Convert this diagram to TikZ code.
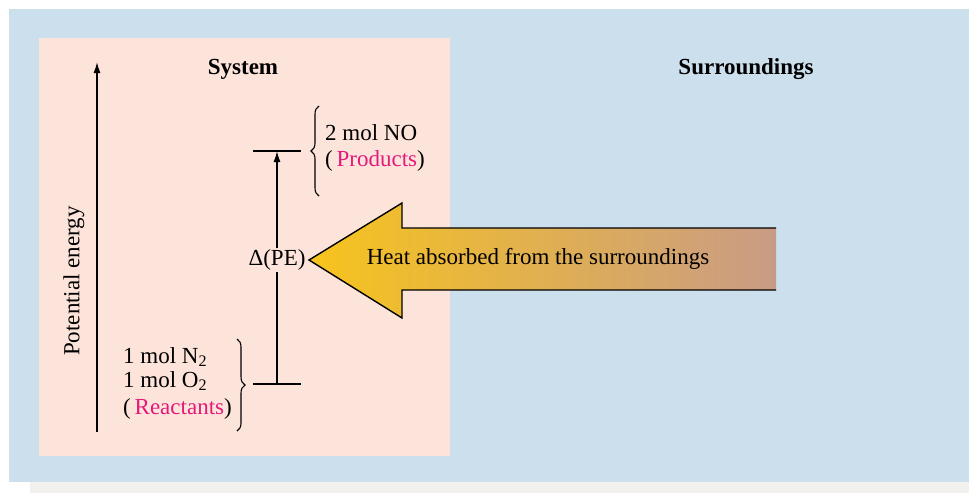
\documentclass[tikz,border=0pt]{standalone}
\usepackage{fontspec}
\setmainfont{Liberation Serif}
\usetikzlibrary{decorations.pathreplacing,calc,arrows.meta}
\definecolor{sky}{HTML}{CCDFED}
\definecolor{blush}{HTML}{FDE4DA}
\definecolor{strip}{HTML}{F2F1ED}
\definecolor{magen}{HTML}{E5197A}
\definecolor{heatA}{HTML}{F7C41C}
\definecolor{heatM}{HTML}{E6B55E}
\definecolor{heatB}{HTML}{C99B86}
\begin{document}
\begin{tikzpicture}[x=1pt,y=-1pt,
  txt/.style={font=\fontsize{23}{27}\selectfont, inner sep=0pt},
  head/.style={font=\fontsize{23}{27}\selectfont\bfseries, inner sep=0pt},
  level/.style={line width=1.4pt},
  axisline/.style={line width=1.4pt, -{Latex[length=11pt,width=7pt]}},
  pebrace/.style={decorate, line width=1.1pt, decoration={brace, amplitude=8pt}}]
\useasboundingbox (0,0) rectangle (969,493);
% panels
\fill[strip] (30,482) rectangle (969,493);
\fill[sky] (9,9) rectangle (969,482);
\fill[blush] (39,38) rectangle (450,456);
% titles
\node[head] (sys) at (243,69) {System};
\node[head] (sur) at (746,69) {Surroundings};
% energy axis
\coordinate (axb) at (97,432);
\coordinate (axt) at (97,62);
\draw[axisline] (axb) -- (axt);
\node[txt, rotate=90] (pelabel) at (74,281) {Potential energy};
% energy levels
\coordinate (hi) at (277,151);
\coordinate (lo) at (277,384);
\draw[level] ($(hi)+(-24,0)$) -- ($(hi)+(24,0)$);
\draw[level] ($(lo)+(-24,0)$) -- ($(lo)+(24,0)$);
\node[txt, fill=blush, inner sep=1pt] (pe) at (277,260) {Δ(PE)};
\draw[level] (lo) -- (lo |- pe.south);
\draw[axisline] (hi |- pe.north) -- (hi);
% products
\draw[pebrace] (319,196) -- (319,106);
\node[txt, anchor=west] (no) at (325,133) {2 mol NO};
\node[txt, anchor=west] (prod) at (325,161) {(\,\textcolor{magen}{Products})};
% reactants
\draw[pebrace] (237,339) -- (237,431);
\node[txt, anchor=west] (n2) at (123,357) {1 mol N\textsubscript{2}};
\node[txt, anchor=west] (o2) at (123,381) {1 mol O\textsubscript{2}};
\node[txt, anchor=west] (react) at (123,409) {(\,\textcolor{magen}{Reactants})};
% heat arrow
\coordinate (tip) at (309,260);
\shade[left color=heatA, middle color=heatM, right color=heatB]
  (776,228) -- (402,228) -- (402,203) -- (tip) -- (402,318) -- (402,290) -- (776,290) -- cycle;
\draw[line width=1.4pt, line join=miter]
  (776,228) -- (402,228) -- (402,203) -- (tip) -- (402,318) -- (402,290) -- (776,290);
\node[txt] (heat) at (538,259) {Heat absorbed from the surroundings};
\end{tikzpicture}
\end{document}
